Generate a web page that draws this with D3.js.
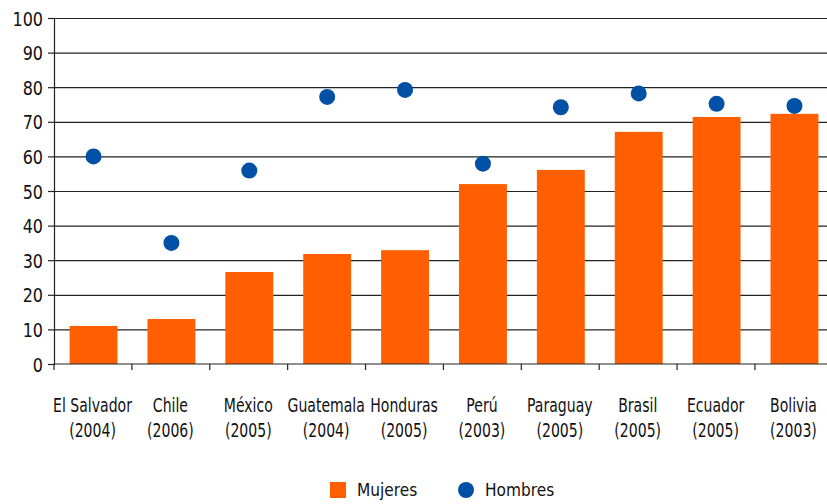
<!DOCTYPE html>
<html>
<head>
    <meta charset="utf-8">
    <script src="https://cdnjs.cloudflare.com/ajax/libs/d3/7.8.5/d3.min.js"></script>
    <style>
        body { margin: 0; background: #fff; }
        text {
            font-family: "DejaVu Sans", sans-serif;
            fill: #111;
        }
        .grid line { stroke: #222; stroke-width: 1.2; }
        .grid path { display: none; }
    </style>
</head>
<body>
    <svg width="827" height="504"></svg>
    <script>
        // Data
        const countries = ["El Salvador", "Chile", "México", "Guatemala", "Honduras", "Perú", "Paraguay", "Brasil", "Ecuador", "Bolivia"];
        const years = ["(2004)", "(2006)", "(2005)", "(2004)", "(2005)", "(2003)", "(2005)", "(2005)", "(2005)", "(2003)"];
        const mujeres = [11.0, 13.0, 26.6, 31.8, 32.9, 52.0, 56.1, 67.1, 71.4, 72.3];
        const hombres = [60.0, 35.0, 55.9, 77.2, 79.2, 57.9, 74.2, 78.2, 75.2, 74.6];
        const yTicks = [0, 10, 20, 30, 40, 50, 60, 70, 80, 90, 100];

        const orange = "#FF5F00";
        const blue = "#0050A5";

        const margin = {left: 54, top: 18};
        const width = 780;
        const height = 346;

        const svg = d3.select("svg")
            .append("g")
            .attr("transform", `translate(${margin.left},${margin.top})`);

        const x = d3.scaleBand()
            .domain(countries)
            .range([0, width])
            .paddingInner(0.385)
            .paddingOuter(0.2);

        const y = d3.scaleLinear()
            .domain([0, 100])
            .range([height, 0]);

        // Grid lines
        svg.append("g")
            .attr("class", "grid")
            .call(d3.axisLeft(y)
                .tickValues(yTicks.slice(1))
                .tickSize(-width)
                .tickFormat(""));

        // Bars
        svg.selectAll(".bar")
            .data(mujeres)
            .enter()
            .append("rect")
            .attr("class", "bar")
            .attr("x", (d, i) => x(countries[i]))
            .attr("width", x.bandwidth())
            .attr("y", d => y(d))
            .attr("height", d => height - y(d))
            .attr("fill", orange);

        // Dots
        svg.selectAll(".dot")
            .data(hombres)
            .enter()
            .append("circle")
            .attr("class", "dot")
            .attr("cx", (d, i) => x(countries[i]) + x.bandwidth() / 2)
            .attr("cy", d => y(d))
            .attr("r", 8)
            .attr("fill", blue);

        // Y axis (labels drawn as narrow text)
        const yAxis = svg.append("g")
            .call(d3.axisLeft(y).tickValues(yTicks).tickSize(6).tickFormat(""));
        yAxis.select(".domain").attr("stroke", "#222").attr("stroke-width", 1.2);
        yAxis.selectAll(".tick line").attr("stroke", "#222").attr("stroke-width", 1.2);

        svg.selectAll(".ylabel")
            .data(yTicks)
            .enter()
            .append("g")
            .attr("class", "ylabel")
            .attr("transform", d => `translate(-11,${y(d) + 7.5})`)
            .append("text")
            .attr("text-anchor", "end")
            .attr("transform", "scale(0.8,1)")
            .style("font-size", "20px")
            .text(d => d);

        // X axis baseline with ticks at category boundaries
        const step = x.step();
        const boundaries = d3.range(countries.length + 1).map(i => i * step);
        svg.append("line")
            .attr("x1", 0).attr("x2", width)
            .attr("y1", height).attr("y2", height)
            .attr("stroke", "#222").attr("stroke-width", 1.2);
        svg.selectAll(".xtick")
            .data(boundaries)
            .enter()
            .append("line")
            .attr("x1", d => d).attr("x2", d => d)
            .attr("y1", height).attr("y2", height + 6)
            .attr("stroke", "#222").attr("stroke-width", 1.2);

        // Category labels
        const labels = svg.selectAll(".xlabel")
            .data(countries)
            .enter()
            .append("g")
            .attr("class", "xlabel")
            .attr("transform", d => `translate(${x(d) + x.bandwidth() / 2 - 1},${height + 48})`)
            .append("text")
            .attr("text-anchor", "middle")
            .attr("transform", "scale(0.74,1)")
            .style("font-size", "19px");
        labels.append("tspan").attr("x", 0).attr("y", 0).text(d => d);
        labels.append("tspan").attr("x", 0).attr("y", 25).text((d, i) => years[i]);

        // Legend
        const legend = d3.select("svg").append("g");
        legend.append("rect")
            .attr("x", 330).attr("y", 482)
            .attr("width", 16).attr("height", 16)
            .attr("fill", orange);
        legend.append("g")
            .attr("transform", "translate(357,496)")
            .append("text")
            .attr("transform", "scale(0.88,1)")
            .style("font-size", "17.5px")
            .text("Mujeres");
        legend.append("circle")
            .attr("cx", 466).attr("cy", 490)
            .attr("r", 8)
            .attr("fill", blue);
        legend.append("g")
            .attr("transform", "translate(485,496)")
            .append("text")
            .attr("transform", "scale(0.88,1)")
            .style("font-size", "17.5px")
            .text("Hombres");
    </script>
</body>
</html>
